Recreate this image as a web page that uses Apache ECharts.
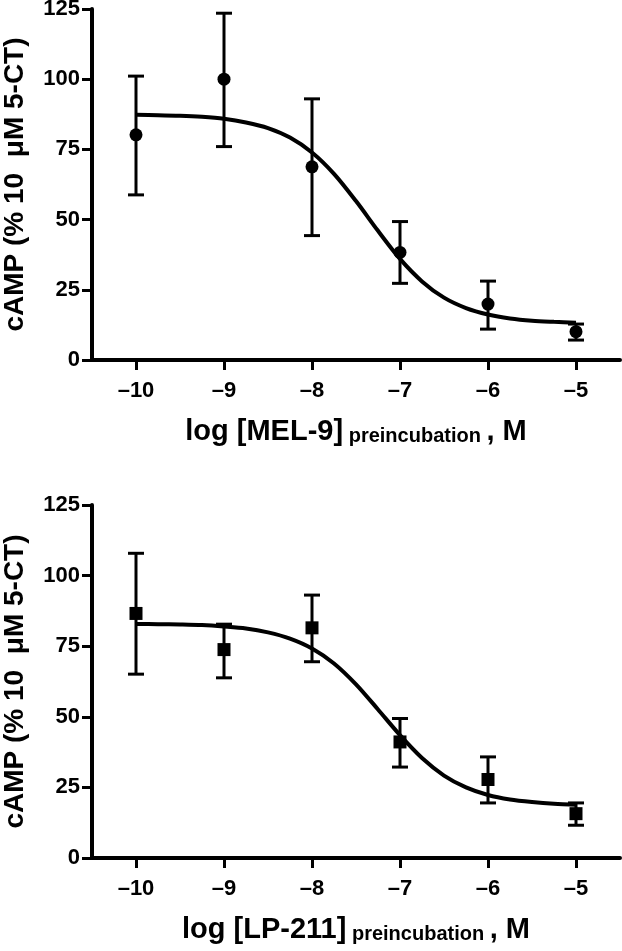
<!DOCTYPE html>
<html><head><meta charset="utf-8">
<script src="https://cdn.jsdelivr.net/npm/echarts@6/dist/echarts.min.js"></script>
<style>html,body{margin:0;padding:0;background:#fff}#c{width:622px;height:951px}</style>
</head><body><div id="c"></div>
<script>
// tick labels
const xTicks = [-10, -9, -8, -7, -6, -5];
const yTicks = [0, 25, 50, 75, 100, 125];
// measured points
const logConc = [-10, -9, -8, -7, -6, -5];
const mel9Mean  = [80.2, 100.0, 68.8, 38.3, 19.9, 10.1];
const mel9Upper = [101.1, 123.5, 93.0, 49.3, 28.1, 12.8];
const mel9Lower = [58.8, 76.0, 44.3, 27.3, 11.0, 7.1];
const lp211Mean  = [86.6, 73.8, 81.5, 41.1, 27.8, 15.7];
const lp211Upper = [107.9, 82.8, 93.1, 49.4, 35.8, 19.5];
const lp211Lower = [65.1, 63.8, 69.5, 32.2, 19.5, 11.6];
// fitted curves
const curveX     = [-10, -9.75, -9.5, -9.25, -9, -8.75, -8.5, -8.25, -8, -7.75, -7.5, -7.25, -7, -6.75, -6.5, -6.25, -6, -5.75, -5.5, -5.25, -5];
const mel9Curve  = [87.3, 87.2, 87.0, 86.6, 85.9, 84.6, 82.6, 79.2, 73.9, 66.3, 56.6, 46.0, 36.0, 28.0, 22.2, 18.5, 16.2, 14.8, 14.0, 13.6, 13.3];
const lp211Curve = [82.9, 82.8, 82.7, 82.5, 82.0, 81.3, 79.9, 77.7, 74.2, 68.9, 61.5, 52.6, 43.5, 35.4, 29.2, 25.0, 22.3, 20.7, 19.8, 19.2, 18.9];

const FONT = '"Liberation Sans", Arial, Helvetica, sans-serif';
const chart = echarts.init(document.getElementById('c'), null, {renderer: 'canvas'});

function errRender(params, api) {
  const x = api.value(0), hi = api.value(1), lo = api.value(2);
  const pHi = api.coord([x, hi]), pLo = api.coord([x, lo]);
  const w = 8;
  const st = {stroke: '#000', lineWidth: 3};
  return {type: 'group', children: [
    {type: 'line', shape: {x1: pHi[0], y1: pHi[1], x2: pLo[0], y2: pLo[1]}, style: st},
    {type: 'line', shape: {x1: pHi[0] - w, y1: pHi[1], x2: pHi[0] + w, y2: pHi[1]}, style: st},
    {type: 'line', shape: {x1: pLo[0] - w, y1: pLo[1], x2: pLo[0] + w, y2: pLo[1]}, style: st}
  ]};
}

function xAxis(i, drug) {
  return {
    type: 'value', gridIndex: i, min: -10.5, max: -4.5,
    axisLine: {show: true, onZero: false, lineStyle: {color: '#000', width: 4}},
    axisTick: {show: true, customValues: xTicks, length: 10, lineStyle: {color: '#000', width: 3}},
    axisLabel: {customValues: xTicks, formatter: v => v < 0 ? '\u2013' + (-v) : String(v),
      fontSize: 22, fontWeight: 'bold', color: '#000', fontFamily: FONT, margin: 20},
    splitLine: {show: false},
    name: '{a|log [' + drug + ']}{s| preincubation }{a|, M}',
    nameLocation: 'middle', nameGap: 53,
    nameTextStyle: {rich: {
      a: {fontSize: 29, fontWeight: 'bold', color: '#000', fontFamily: FONT, lineHeight: 33, verticalAlign: 'bottom'},
      s: {fontSize: 20, fontWeight: 'bold', color: '#000', fontFamily: FONT, lineHeight: 33, verticalAlign: 'bottom'}
    }}
  };
}
function yAxis(i) {
  return {
    type: 'value', gridIndex: i, min: yTicks[0], max: yTicks[yTicks.length - 1], interval: 25,
    axisLine: {show: true, lineStyle: {color: '#000', width: 4}},
    axisTick: {show: true, length: 10, lineStyle: {color: '#000', width: 3}},
    axisLabel: {fontSize: 22, fontWeight: 'bold', color: '#000', fontFamily: FONT, margin: 12},
    splitLine: {show: false},
    name: 'cAMP (% 10  \u03BCM 5-CT)', nameLocation: 'middle', nameGap: 63,
    nameTextStyle: {fontSize: 28, fontWeight: 'bold', color: '#000', fontFamily: FONT}
  };
}
function seriesFor(i, mean, upper, lower, curve, symbol) {
  return [
    {type: 'line', xAxisIndex: i, yAxisIndex: i, data: curveX.map((x, k) => [x, curve[k]]),
      smooth: 0.3, showSymbol: false, lineStyle: {color: '#000', width: 4}, z: 3},
    {type: 'custom', xAxisIndex: i, yAxisIndex: i, renderItem: errRender,
      encode: {x: 0, y: [1, 2]}, data: logConc.map((x, k) => [x, upper[k], lower[k]]), z: 2},
    {type: 'scatter', xAxisIndex: i, yAxisIndex: i, symbol: symbol, symbolSize: 13,
      itemStyle: {color: '#000', opacity: 1}, data: logConc.map((x, k) => [x, mean[k]]), z: 4}
  ];
}

chart.setOption({
  backgroundColor: '#fff',
  animation: false,
  grid: [
    {left: 92, right: 2, top: 9, height: 351, outerBoundsMode: 'none', containLabel: false},
    {left: 92, right: 2, top: 505, height: 353, outerBoundsMode: 'none', containLabel: false}
  ],
  xAxis: [xAxis(0, 'MEL-9'), xAxis(1, 'LP-211')],
  yAxis: [yAxis(0), yAxis(1)],
  series: [].concat(
    seriesFor(0, mel9Mean, mel9Upper, mel9Lower, mel9Curve, 'circle'),
    seriesFor(1, lp211Mean, lp211Upper, lp211Lower, lp211Curve, 'rect')
  )
});
</script></body></html>
